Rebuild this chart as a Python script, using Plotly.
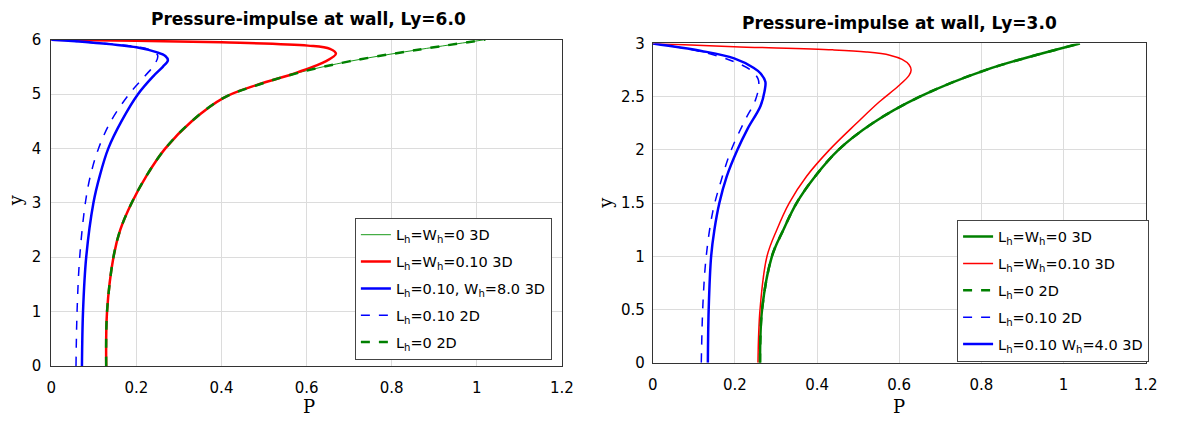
import plotly.graph_objects as go

# ---------------- Data: left panel (Ly = 6.0) ----------------
L_green3d_y = [0, 1.0, 2.0, 2.5, 3.0, 3.5, 4.0, 4.5, 4.93, 5.18, 5.40, 5.6, 5.8, 6.0]
L_green3d_P = [0.129, 0.131, 0.146, 0.162, 0.189, 0.224, 0.268, 0.330, 0.405, 0.490, 0.585, 0.700, 0.850, 1.020]

L_red_y = [0, 1.0, 2.0, 2.5, 3.0, 3.5, 4.0, 4.5, 4.93, 5.18, 5.36, 5.59, 5.74, 5.83, 5.89, 5.95, 5.98, 6.0]
L_red_P = [0.129, 0.131, 0.146, 0.162, 0.189, 0.224, 0.268, 0.330, 0.405, 0.488, 0.564, 0.642, 0.669, 0.655, 0.603, 0.40, 0.20, 0.0]

L_blue3d_y = [0, 1.0, 2.0, 3.0, 3.5, 4.0, 4.5, 5.0, 5.33, 5.50, 5.62, 5.70, 5.77, 5.86, 5.945, 6.0]
L_blue3d_P = [0.072, 0.0745, 0.082, 0.099, 0.114, 0.134, 0.165, 0.204, 0.240, 0.262, 0.274, 0.268, 0.247, 0.200, 0.099, 0.0]

L_blue2d_y = [0, 1.0, 2.0, 3.0, 3.5, 4.0, 4.5, 5.0, 5.33, 5.56, 5.71, 5.80, 5.87, 5.945, 6.0]
L_blue2d_P = [0.058, 0.0605, 0.0667, 0.080, 0.092, 0.111, 0.140, 0.183, 0.220, 0.244, 0.250, 0.236, 0.200, 0.099, 0.0]

L_green2d_y = [0, 1.0, 2.0, 2.5, 3.0, 3.5, 4.0, 4.5, 4.93, 5.18, 5.40, 5.6, 5.8, 6.0]
L_green2d_P = [0.129, 0.131, 0.146, 0.162, 0.189, 0.224, 0.268, 0.330, 0.405, 0.490, 0.585, 0.700, 0.850, 1.020]

# ---------------- Data: right panel (Ly = 3.0) ----------------
R_green3d_y = [0, 0.5, 1.0, 1.25, 1.5, 1.75, 2.0, 2.25, 2.5, 2.75, 3.0]
R_green3d_P = [0.261, 0.266, 0.290, 0.318, 0.350, 0.395, 0.452, 0.535, 0.650, 0.810, 1.040]

R_red_y = [0, 0.5, 1.0, 1.25, 1.5, 1.75, 2.0, 2.25, 2.45, 2.6, 2.7, 2.75, 2.8, 2.85, 2.89, 2.92, 2.94, 2.97, 3.0]
R_red_P = [0.256, 0.261, 0.278, 0.302, 0.332, 0.374, 0.430, 0.496, 0.551, 0.598, 0.624, 0.629, 0.624, 0.607, 0.577, 0.520, 0.438, 0.198, 0.0]

R_green2d_y = [0, 0.5, 1.0, 1.25, 1.5, 1.75, 2.0, 2.25, 2.5, 2.75, 3.0]
R_green2d_P = [0.261, 0.266, 0.290, 0.318, 0.350, 0.395, 0.452, 0.535, 0.650, 0.810, 1.040]

R_blue2d_y = [0, 0.55, 1.0, 1.42, 1.72, 1.99, 2.26, 2.47, 2.6, 2.67, 2.75, 2.84, 2.93, 3.0]
R_blue2d_P = [0.118, 0.122, 0.130, 0.146, 0.167, 0.190, 0.222, 0.250, 0.258, 0.256, 0.238, 0.190, 0.110, 0.0]

R_blue3d_y = [0, 0.5, 1.0, 1.25, 1.5, 1.75, 2.0, 2.2, 2.41, 2.55, 2.64, 2.72, 2.77, 2.86, 2.93, 3.0]
R_blue3d_P = [0.134, 0.136, 0.142, 0.150, 0.162, 0.180, 0.206, 0.231, 0.262, 0.272, 0.274, 0.262, 0.246, 0.198, 0.118, 0.0]

x_ticks = [0, 0.2, 0.4, 0.6, 0.8, 1.0, 1.2]
x_ticklabels = ["0", "0.2", "0.4", "0.6", "0.8", "1", "1.2"]
L_y_ticks = [0, 1, 2, 3, 4, 5, 6]
R_y_ticks = [0, 0.5, 1, 1.5, 2, 2.5, 3]
R_y_ticklabels = ["0", "0.5", "1", "1.5", "2", "2.5", "3"]

RED = "#ff0000"
BLUE = "#0000ff"
GREEN = "#008000"
GREEN_THIN = "#1a9a1a"

fig = go.Figure()
_count = [0]

def add(x, y, name, color, width, dash, xa, ya, legend):
    _count[0] += 1
    fig.add_trace(go.Scatter(
        x=x, y=y, mode="lines", name=name,
        line=dict(color=color, width=width, dash=dash, shape="spline", smoothing=1.0),
        xaxis=xa, yaxis=ya, legend=legend, legendgroup="g%d" % _count[0]))

# Left panel
add(L_green3d_P, L_green3d_y, "L<sub>h</sub>=W<sub>h</sub>=0 3D", GREEN_THIN, 1, "solid", "x", "y", "legend")
add(L_red_P, L_red_y, "L<sub>h</sub>=W<sub>h</sub>=0.10 3D", RED, 2.5, "solid", "x", "y", "legend")
add(L_blue3d_P, L_blue3d_y, "L<sub>h</sub>=0.10, W<sub>h</sub>=8.0 3D", BLUE, 2.5, "solid", "x", "y", "legend")
add(L_blue2d_P, L_blue2d_y, "L<sub>h</sub>=0.10 2D", BLUE, 1.5, "dash", "x", "y", "legend")
add(L_green2d_P, L_green2d_y, "L<sub>h</sub>=0 2D", GREEN, 2.5, "dash", "x", "y", "legend")

# Right panel
add(R_green3d_P, R_green3d_y, "L<sub>h</sub>=W<sub>h</sub>=0 3D", GREEN, 2.5, "solid", "x2", "y2", "legend2")
add(R_red_P, R_red_y, "L<sub>h</sub>=W<sub>h</sub>=0.10 3D", RED, 1.5, "solid", "x2", "y2", "legend2")
add(R_green2d_P, R_green2d_y, "L<sub>h</sub>=0 2D", GREEN, 2.5, "dash", "x2", "y2", "legend2")
add(R_blue2d_P, R_blue2d_y, "L<sub>h</sub>=0.10 2D", BLUE, 1.5, "dash", "x2", "y2", "legend2")
add(R_blue3d_P, R_blue3d_y, "L<sub>h</sub>=0.10 W<sub>h</sub>=4.0 3D", BLUE, 2.5, "solid", "x2", "y2", "legend2")

W, H = 1180, 425
tickfont = dict(family="DejaVu Sans", size=15, color="black")
axis_common = dict(showgrid=True, gridcolor="#dcdcdc", gridwidth=1, showline=True,
                   linecolor="#333333", linewidth=1, mirror=True, ticks="",
                   zeroline=False, tickfont=tickfont)

legend_common = dict(xanchor="left", yanchor="top", bgcolor="white", bordercolor="#444444",
                     borderwidth=1, font=dict(family="DejaVu Sans", size=14.5, color="black"),
                     tracegroupgap=5, itemwidth=30)

fig.update_layout(
    width=W, height=H,
    margin=dict(l=0, r=0, t=0, b=0),
    paper_bgcolor="white", plot_bgcolor="white",
    xaxis=dict(domain=[47/W, 565/W], range=[0, 1.2], tickvals=x_ticks, ticktext=x_ticklabels,
               anchor="y", ticklabelstandoff=8, **axis_common),
    yaxis=dict(domain=[(H-372.7)/H, (H-32)/H], range=[0, 6], tickvals=L_y_ticks,
               anchor="x", ticklabelstandoff=6, **axis_common),
    xaxis2=dict(domain=[657.3/W, 1157.3/W], range=[0, 1.2], tickvals=x_ticks, ticktext=x_ticklabels,
                anchor="y2", ticklabelstandoff=8, **axis_common),
    yaxis2=dict(domain=[(H-369.3)/H, (H-36)/H], range=[0, 3], tickvals=R_y_ticks, ticktext=R_y_ticklabels,
                anchor="x2", ticklabelstandoff=4, **axis_common),
    legend=dict(x=355/W, y=(H-218)/H, **legend_common),
    legend2=dict(x=966/W, y=(H-220)/H, **legend_common),
    showlegend=True,
)

annotations = [
    dict(text="<b>Pressure-impulse at wall, Ly=6.0</b>", x=308/W, y=(H-10)/H, xref="paper", yref="paper",
         showarrow=False, font=dict(family="DejaVu Sans", size=17, color="black"), xanchor="center", yanchor="middle"),
    dict(text="<b>Pressure-impulse at wall, Ly=3.0</b>", x=908/W, y=(H-15)/H, xref="paper", yref="paper",
         showarrow=False, font=dict(family="DejaVu Sans", size=17, color="black"), xanchor="center", yanchor="middle"),
    dict(text="P", x=308/W, y=(H-415)/H, xref="paper", yref="paper", showarrow=False,
         font=dict(family="DejaVu Serif", size=18, color="black"), xanchor="center", yanchor="middle"),
    dict(text="P", x=907/W, y=(H-415)/H, xref="paper", yref="paper", showarrow=False,
         font=dict(family="DejaVu Serif", size=18, color="black"), xanchor="center", yanchor="middle"),
    dict(text="y", x=11/W, y=(H-200)/H, xref="paper", yref="paper", showarrow=False, textangle=-90,
         font=dict(family="DejaVu Serif", size=18, color="black"), xanchor="center", yanchor="middle"),
    dict(text="y", x=609/W, y=(H-202)/H, xref="paper", yref="paper", showarrow=False, textangle=-90,
         font=dict(family="DejaVu Serif", size=18, color="black"), xanchor="center", yanchor="middle"),
]
fig.update_layout(annotations=annotations)

fig.write_html("out.html")
